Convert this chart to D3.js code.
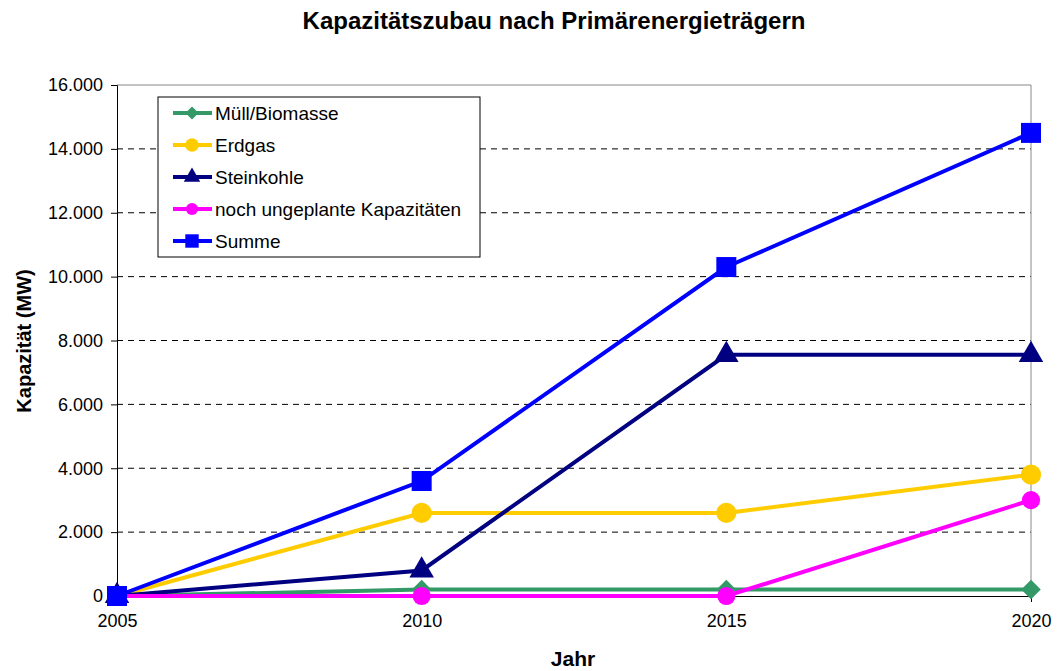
<!DOCTYPE html>
<html>
<head>
<meta charset="utf-8">
<script src="https://cdn.jsdelivr.net/npm/d3@7"></script>
<style>
  body { margin: 0; background: #fff; }
  svg { font-family: "Liberation Sans", Arial, sans-serif; }
</style>
</head>
<body>
<script>
let years = [2005, 2010, 2015, 2020];
let yTicks = [0, 2000, 4000, 6000, 8000, 10000, 12000, 14000, 16000];

let muell = [0, 200, 200, 200];
let erdgas = [0, 2600, 2600, 3800];
let steinkohle = [0, 800, 7550, 7550];
let ungeplant = [0, 0, 0, 3000];
let summe = [0, 3600, 10300, 14500];

let seriesNames = ["Müll/Biomasse", "Erdgas", "Steinkohle", "noch ungeplante Kapazitäten", "Summe"];
let seriesValues = [muell, erdgas, steinkohle, ungeplant, summe];
let seriesColors = ["#339966", "#ffcc00", "#000080", "#ff00ff", "#0000ff"];

// a square diamond, like the spreadsheet marker
let wideDiamond = {
    draw(context, size) {
        let r = Math.sqrt(size / 2);
        context.moveTo(0, -r);
        context.lineTo(r, 0);
        context.lineTo(0, r);
        context.lineTo(-r, 0);
        context.closePath();
    }
};
let seriesSymbols = [wideDiamond, d3.symbolCircle, d3.symbolTriangle, d3.symbolCircle, d3.symbolSquare];
let symbolSizes = [190, 320, 260, 260, 400];

let width = 1058, height = 671;
let margin = {left: 117, right: 27, top: 85, bottom: 75};

let svg = d3.select("body")
    .append("svg")
    .attr("width", width)
    .attr("height", height);

let x = d3.scaleLinear()
    .domain([2005, 2020])
    .range([margin.left, width - margin.right]);

let y = d3.scaleLinear()
    .domain([0, 16000])
    .range([height - margin.bottom, margin.top]);

let fmt = d => d === 0 ? "0" : d3.format(",")(d).replace(/,/g, ".");

// grid lines
svg.append("g")
    .selectAll("line")
    .data(yTicks.filter(d => d > 0 && d < 16000))
    .join("line")
    .attr("x1", x(2005))
    .attr("x2", x(2020))
    .attr("y1", d => y(d))
    .attr("y2", d => y(d))
    .style("stroke", "#000")
    .style("stroke-width", 1)
    .style("stroke-dasharray", "6,5");

// plot frame top and right
svg.append("line")
    .attr("x1", x(2005)).attr("x2", x(2020))
    .attr("y1", y(16000)).attr("y2", y(16000))
    .style("stroke", "#888");
svg.append("line")
    .attr("x1", x(2020)).attr("x2", x(2020))
    .attr("y1", y(16000)).attr("y2", y(0))
    .style("stroke", "#888");

// axes
let yAxis = svg.append("g")
    .attr("transform", `translate(${x(2005)},0)`)
    .call(d3.axisLeft(y).tickValues(yTicks).tickFormat(fmt).tickSize(6).tickPadding(8));

let xAxis = svg.append("g")
    .attr("transform", `translate(0,${y(0)})`)
    .call(d3.axisBottom(x).tickValues(years).tickFormat(d3.format("d")).tickSize(6).tickPadding(12));

[yAxis, xAxis].forEach(a => {
    a.selectAll("text")
        .style("font-family", "Liberation Sans, Arial, sans-serif")
        .style("font-size", "18px")
        .style("fill", "#000");
    a.select(".domain").style("stroke", "#000");
    a.selectAll(".tick line").style("stroke", "#000");
});

// lines and markers
let line = d3.line()
    .x((d, i) => x(years[i]))
    .y(d => y(d));

seriesValues.forEach((vals, s) => {
    svg.append("path")
        .datum(vals)
        .attr("d", line)
        .style("fill", "none")
        .style("stroke", seriesColors[s])
        .style("stroke-width", 4);

    svg.append("g")
        .selectAll("path")
        .data(vals)
        .join("path")
        .attr("transform", (d, i) => `translate(${x(years[i])},${y(d)})`)
        .attr("d", d3.symbol().type(seriesSymbols[s]).size(symbolSizes[s]))
        .style("fill", seriesColors[s]);
});

// legend
let legend = svg.append("g")
    .attr("transform", "translate(158,97)");

legend.append("rect")
    .attr("width", 322)
    .attr("height", 160)
    .style("fill", "#fff")
    .style("stroke", "#000")
    .style("stroke-width", 1);

let item = legend.selectAll(".item")
    .data(seriesNames)
    .join("g")
    .attr("class", "item")
    .attr("transform", (d, i) => `translate(0,${16 + i * 32})`);

item.append("line")
    .attr("x1", 15).attr("x2", 54)
    .style("stroke", (d, i) => seriesColors[i])
    .style("stroke-width", 4);

item.append("path")
    .attr("transform", "translate(34,0)")
    .attr("d", (d, i) => d3.symbol().type(seriesSymbols[i]).size(symbolSizes[i] * 0.45)())
    .style("fill", (d, i) => seriesColors[i]);

item.append("text")
    .attr("x", 57)
    .attr("dy", "0.35em")
    .style("font-size", "19px")
    .text(d => d);

// titles
svg.append("text")
    .attr("x", 554)
    .attr("y", 29)
    .attr("text-anchor", "middle")
    .style("font-weight", "bold")
    .style("font-size", "24px")
    .text("Kapazitätszubau nach Primärenergieträgern");

svg.append("text")
    .attr("x", 573)
    .attr("y", 666)
    .attr("text-anchor", "middle")
    .style("font-weight", "bold")
    .style("font-size", "21px")
    .text("Jahr");

svg.append("text")
    .attr("transform", "translate(31,341) rotate(-90)")
    .attr("text-anchor", "middle")
    .style("font-weight", "bold")
    .style("font-size", "20px")
    .text("Kapazität (MW)");
</script>
</body>
</html>
